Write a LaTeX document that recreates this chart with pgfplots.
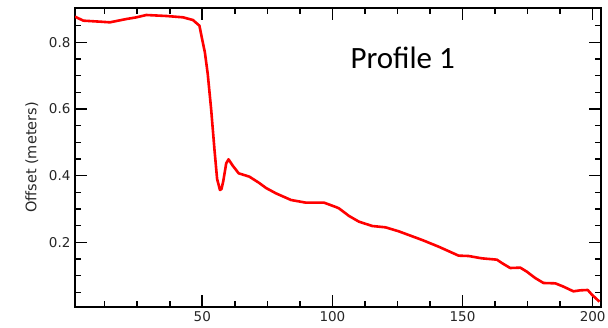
\documentclass[border=0pt]{standalone}
\usepackage{fontspec}
\setmainfont{DejaVu Sans}
\newfontfamily\calib{Carlito}
\usepackage{pgfplots}
\pgfplotsset{compat=1.18}
\begin{document}
\begin{tikzpicture}
\path[use as bounding box] (-75pt,-21pt) rectangle (533pt,307pt);
\begin{axis}[
  scale only axis,
  width=526pt, height=299pt,
  at={(0pt,0pt)}, anchor=south west,
  xmin=1.1, xmax=203.2, ymin=0.006, ymax=0.903,
  xtick={50,100,150,200}, xticklabels={50,100,150,200},
  ytick={0.2,0.4,0.6,0.8}, yticklabels={0.2,0.4,0.6,0.8},
  minor xtick={12.5,25,37.5,62.5,75,87.5,112.5,125,137.5,162.5,175,187.5},
  minor ytick={0.05,0.1,0.15,0.25,0.3,0.35,0.45,0.5,0.55,0.65,0.7,0.75,0.85},
  major tick length=12pt, minor tick length=6pt,
  tick align=inside,
  axis line style={line width=2pt},
  every tick/.style={line width=1.6pt, black},
  tick label style={font=\fontsize{13.5}{16}\selectfont, text=black!85},
  xticklabel style={yshift=-1pt},
  yticklabel style={xshift=-1pt},
  ylabel={Offset (meters)},
  ylabel style={at={(axis description cs:-0.082,0.5)}, anchor=center, font=\fontsize{14.5}{17}\selectfont, text=black!85},
  clip=true,
]
\addplot[color={rgb,255:red,255;green,0;blue,0}, line width=2.6pt, line join=round] coordinates {
(1.1,0.877)
(4.3,0.865)
(10.7,0.862)
(14.5,0.860)
(20.9,0.870)
(24.7,0.875)
(28.5,0.882)
(36.2,0.879)
(42.6,0.875)
(46.4,0.867)
(48.9,0.850)
(50.2,0.800)
(51.0,0.770)
(52.1,0.705)
(53.4,0.600)
(54.7,0.477)
(55.7,0.390)
(56.8,0.357)
(57.4,0.360)
(58.1,0.385)
(59.2,0.437)
(60.1,0.449)
(61.7,0.430)
(64.0,0.407)
(68.1,0.397)
(71.9,0.378)
(74.5,0.363)
(78.3,0.347)
(84.1,0.327)
(89.8,0.319)
(96.8,0.319)
(101.3,0.306)
(102.5,0.302)
(106.4,0.279)
(110.2,0.262)
(115.3,0.249)
(120.4,0.245)
(125.5,0.233)
(134.5,0.207)
(140.8,0.187)
(148.5,0.160)
(152.3,0.159)
(157.4,0.152)
(163.2,0.148)
(165.1,0.138)
(168.3,0.123)
(172.2,0.124)
(174.7,0.112)
(177.9,0.093)
(181.1,0.078)
(185.6,0.077)
(188.8,0.067)
(192.6,0.053)
(195.2,0.056)
(198.1,0.057)
(199.7,0.043)
(202.6,0.022)
};
\node[anchor=base, font=\calib\fontsize{31}{36}\selectfont] at (axis cs:127,0.722) {Profile 1};
\end{axis}
\end{tikzpicture}
\end{document}
